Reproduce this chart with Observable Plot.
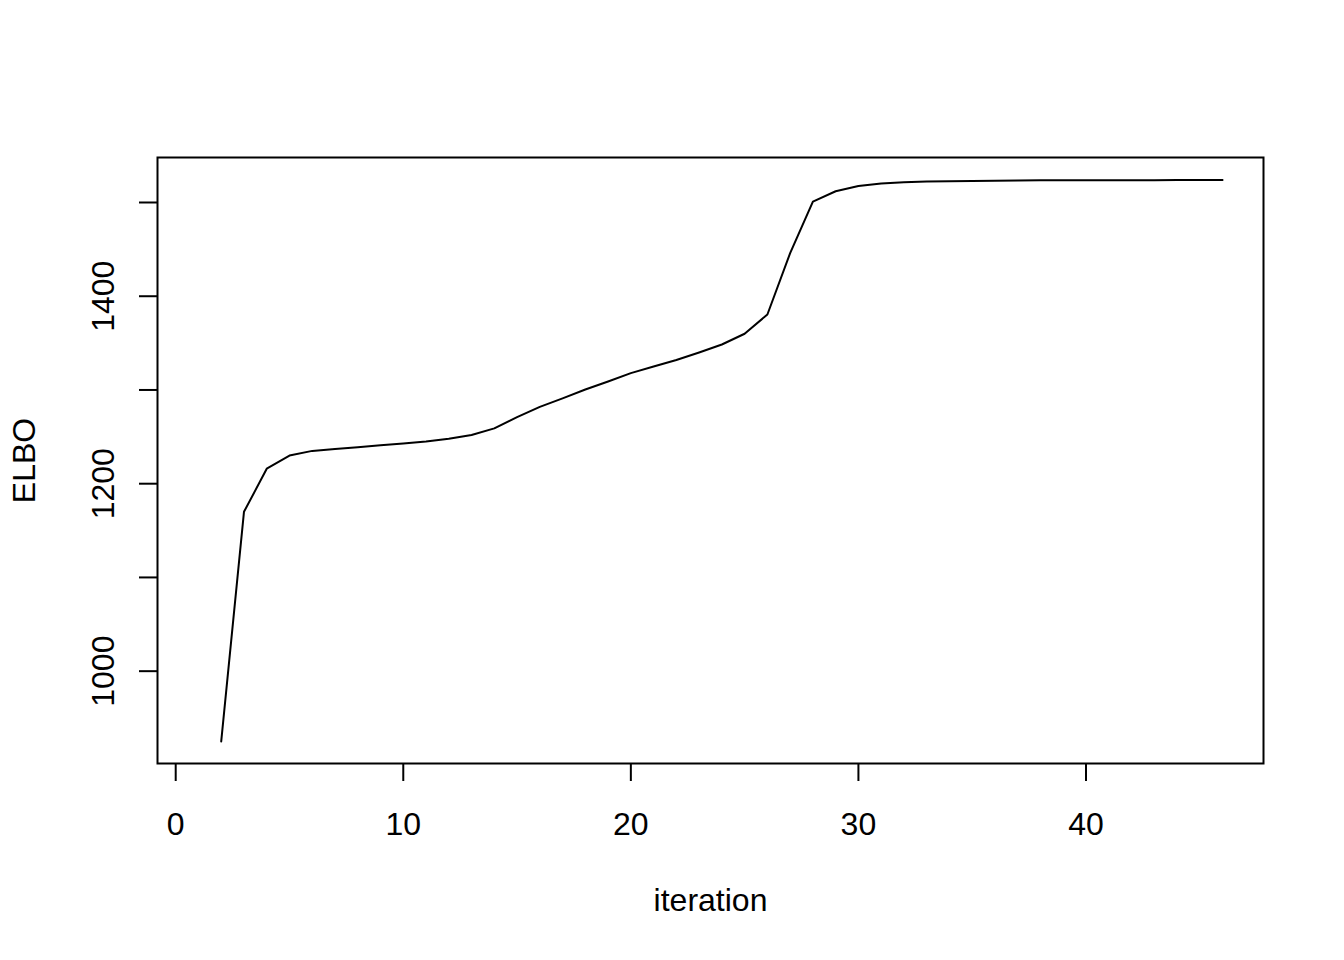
<!DOCTYPE html>
<html><head><meta charset="utf-8">
<script src="https://cdn.jsdelivr.net/npm/d3@7"></script>
<script src="https://cdn.jsdelivr.net/npm/@observablehq/plot@0.6"></script>
<style>body{margin:0;background:#fff}</style>
</head><body><div id="chart"></div>
<script>
const iteration = [2,3,4,5,6,7,8,9,10,11,12,13,14,15,16,17,18,19,20,21,22,23,24,25,26,27,28,29,30,31,32,33,34,35,36,37,38,39,40,41,42,43,44,45,46];
const elbo = [925,1170,1216,1230,1235,1237,1239,1241,1243,1245,1248,1252,1259,1271,1282,1291,1300.5,1309,1318,1325,1332,1340,1348.5,1360,1380.5,1446,1501,1512,1517.5,1520.3,1521.6,1522.3,1522.7,1523,1523.3,1523.5,1523.6,1523.6,1523.7,1523.7,1523.8,1523.8,1523.9,1523.9,1524];
const xTicks = [0,10,20,30,40];
const yTicks = [1000,1100,1200,1300,1400,1500];
const yLabels = [1000,1200,1400];
const xTitle = "iteration";
const yTitle = "ELBO";

const data = iteration.map((x,i)=>({iteration:x, elbo:elbo[i]}));
const font = "'Liberation Sans', Arial, sans-serif";
const chart = Plot.plot({
  width:1344, height:960, marginLeft:157, marginRight:81, marginTop:157, marginBottom:197,
  style:{fontFamily:font, background:"#fff", color:"#000"},
  x:{domain:[-0.8,47.8]},
  y:{domain:[901.5,1548]},
  marks:[
    Plot.frame({stroke:"#000", strokeWidth:2}),
    Plot.axisX({ticks:xTicks, tickSize:18, tickPadding:31, fontSize:32, label:null, strokeWidth:2, tickFormat:d=>String(d)}),
    Plot.axisY({ticks:yTicks, tickSize:18, tickRotate:-90, tickPadding:26, fontSize:32, label:null, strokeWidth:2,
      tickFormat:d=>yLabels.includes(d) ? String(d) : ""}),
    Plot.lineY(data, {x:"iteration", y:"elbo", stroke:"#000", strokeWidth:2}),
    Plot.text([xTitle], {frameAnchor:"bottom", dy:147, fontSize:32, text:d=>d, fill:"#000"}),
    Plot.text([yTitle], {frameAnchor:"left", textAnchor:"middle", dx:-133, rotate:-90, fontSize:32, text:d=>d, fill:"#000"})
  ]
});
document.getElementById("chart").appendChild(chart);
</script>
</body></html>
